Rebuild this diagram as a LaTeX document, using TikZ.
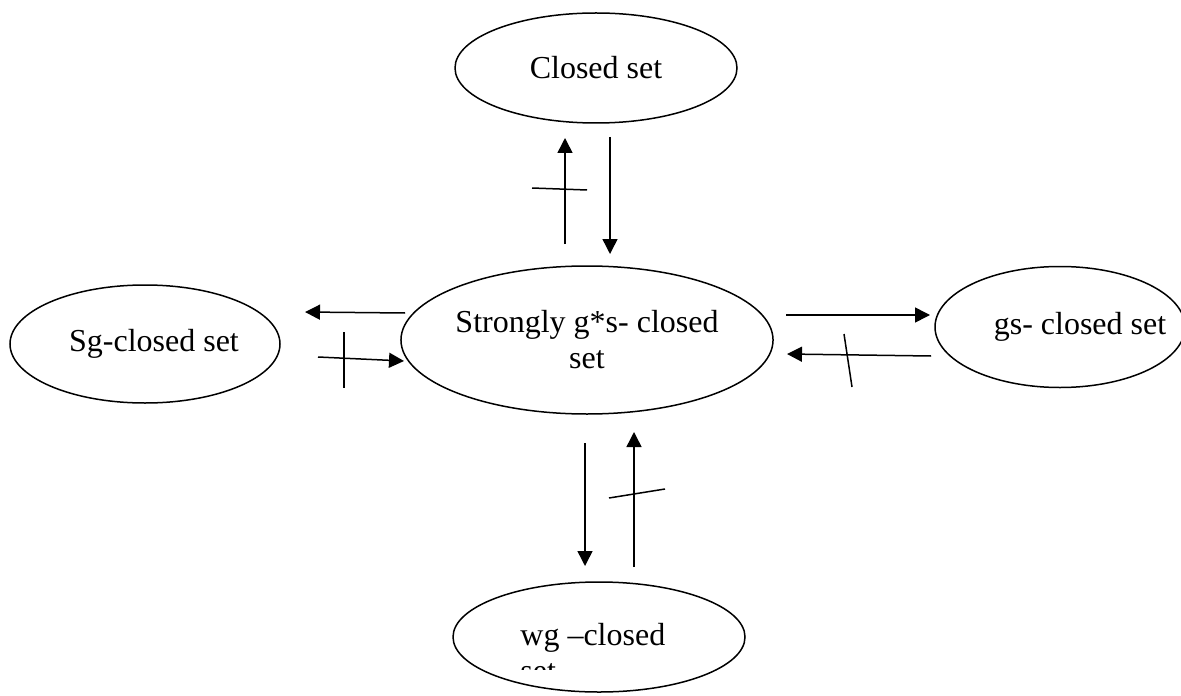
\documentclass[tikz,border=0pt]{standalone}
\usepackage{fontspec}
\setmainfont{Liberation Serif}
\usetikzlibrary{arrows.meta,shapes.geometric}

\begin{document}
\begin{tikzpicture}[x=0.5pt,y=-0.5pt,
		setnode/.style={draw, ellipse, line width=0.75pt, inner sep=0pt, align=center, font=\fontsize{16}{18}\selectfont},
		imp/.style={line width=0.75pt, -{Triangle[length=7.5pt,width=7.5pt]}},
		noimp/.style={line width=0.75pt}]
			%%%%% START %%%%%
			\useasboundingbox (0,0) rectangle (1181,695);
			
			\node[setnode, minimum width=141pt, minimum height=55pt] (closed) at (596,68) {Closed set};
			\node[setnode, minimum width=172pt, minimum height=74pt] (sgs) at (587,340) {Strongly g*s- closed\\set};
			\node[setnode, minimum width=135pt, minimum height=59pt, label={[font=\fontsize{16}{18}\selectfont, xshift=4.5pt]center:Sg-closed set}] (sg) at (145,344) {};
			\node[setnode, minimum width=125pt, minimum height=60.5pt, label={[font=\fontsize{16}{18}\selectfont, xshift=10pt]center:gs- closed set}] (gs) at (1060,327) {};
			\node[setnode, minimum width=146pt, minimum height=55pt] (wg) at (599,637) {};
			\begin{scope}
				\clip (453,600) rectangle (745,669);
				\node[font=\fontsize{16}{18}\selectfont, align=left, anchor=base west, inner sep=0pt] (wgtext) at (520,681) {wg --closed\\set};
			\end{scope}
			
			% closed <-> strongly g*s
			\coordinate (up1) at (565,244);
			\coordinate (up2) at (565,138);
			\coordinate (dn1) at (610,137);
			\coordinate (dn2) at (610,254);
			\draw[imp] (up1) -- (up2);
			\draw[noimp] (532,188) -- (587,190);
			\draw[imp] (dn1) -- (dn2);
			
			% Sg <-> strongly g*s
			\coordinate (lf1) at (405,313);
			\coordinate (lf2) at (305,312);
			\coordinate (rt1) at (318,357);
			\coordinate (rt2) at (404,361);
			\draw[imp] (lf1) -- (lf2);
			\draw[imp] (rt1) -- (rt2);
			\draw[noimp] (344,332) -- (344,388);
			
			% strongly g*s <-> gs
			\coordinate (gsa1) at (786,315);
			\coordinate (gsa2) at (930,315);
			\coordinate (gsb1) at (931,356);
			\coordinate (gsb2) at (787,354);
			\draw[imp] (gsa1) -- (gsa2);
			\draw[imp] (gsb1) -- (gsb2);
			\draw[noimp] (844,334) -- (852,387);
			
			% strongly g*s <-> wg
			\coordinate (wga1) at (585,443);
			\coordinate (wga2) at (585,566);
			\coordinate (wgb1) at (634,567);
			\coordinate (wgb2) at (634,432);
			\draw[imp] (wga1) -- (wga2);
			\draw[imp] (wgb1) -- (wgb2);
			\draw[noimp] (609,498) -- (665,489);
			
			%%%%% END %%%%%
\end{tikzpicture}
\end{document}
